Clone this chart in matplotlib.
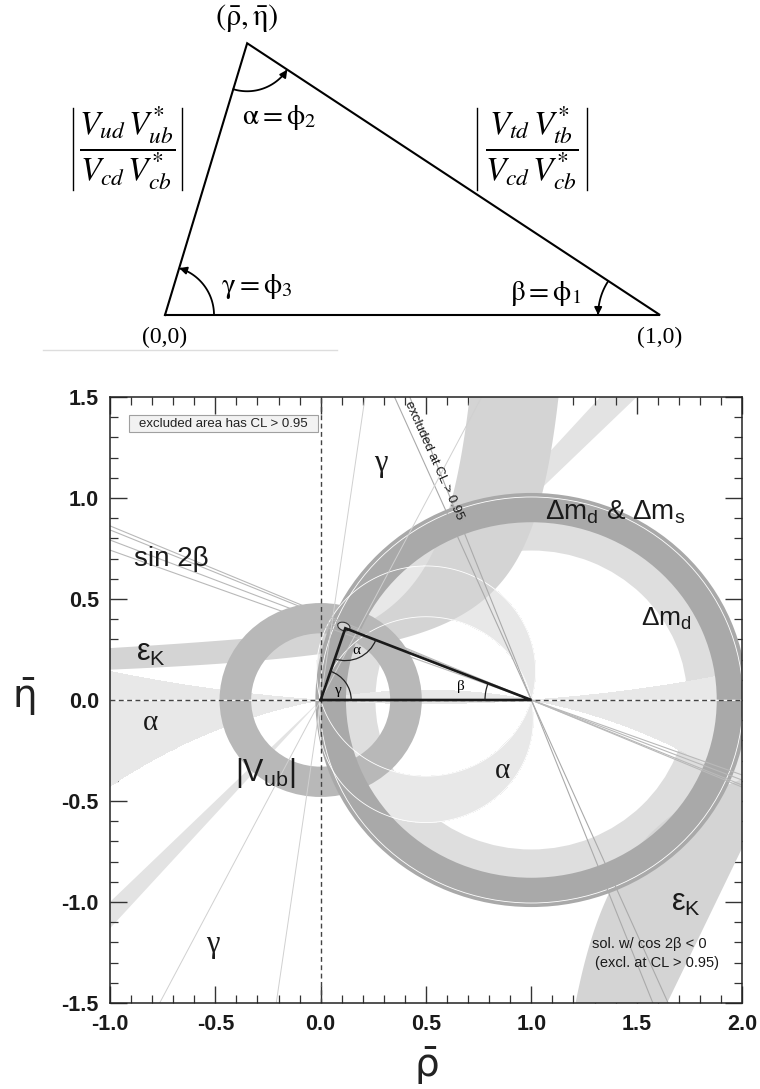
import numpy as np
import matplotlib
matplotlib.use('Agg')
import matplotlib.pyplot as plt
from matplotlib.patches import Wedge, Ellipse, Arc, FancyArrowPatch, Rectangle
from matplotlib.path import Path
from matplotlib.ticker import MultipleLocator, FormatStrFormatter

plt.rcParams['axes.unicode_minus'] = False
plt.rcParams['font.family'] = ['Liberation Sans', 'DejaVu Sans']
plt.rcParams['mathtext.fontset'] = 'custom'
plt.rcParams['mathtext.rm'] = 'Liberation Sans'
plt.rcParams['mathtext.it'] = 'Liberation Sans:italic'

# ---------------- data ----------------
# schematic unitarity triangle (top panel)
schem_apex = [0.166, 0.549]
schem_base_rho = [0.0, 1.0]

# main constraint plot
x_ticks = [-1.0, -0.5, 0.0, 0.5, 1.0, 1.5, 2.0]
y_ticks = [-1.5, -1.0, -0.5, 0.0, 0.5, 1.0, 1.5]
fit_apex = [0.117, 0.355]
fit_ellipse = [0.110, 0.364, 0.060, 0.040, -20.0]   # rho, eta, w, h, angle

vub_radii = [0.33, 0.48]            # ring centred on (0,0)
dmd_radii = [0.74, 0.95]            # ring centred on (1,0)
dmds_radii = [0.88, 1.025]          # ring centred on (1,0)
alpha_band = [74.0, 101.0]          # alpha (mod 180), degrees
alpha_band_flat = [168.9, 15.1]     # start, width (mod 180), degrees
gamma_band = [45.0, 48.5]           # degrees, wedge through origin
gamma_lines = [63.0, 82.0]          # degrees
sin2b_slopes = [-0.371, -0.396, -0.421, -0.431]
excl_slopes = [-2.31, -2.60]
ek_up_inner = [1.287, 0.229, 0.05]  # rho0, c, d   (eta = c/(rho0-rho) + d)
ek_up_outer_a = [3.17, 1.072]       # rho0, c
ek_up_outer_b = [0.8734, 0.2496]    # rho0, c
ek_lo_left = [0.93, 0.42]           # rho0, c   (rho = rho0 + c/|eta|)
ek_lo_right_pts = [[1.648, -1.493], [2.0, -0.734]]

# ---------------- figure ----------------
W, H = 760, 1089
fig = plt.figure(figsize=(W / 100, H / 100), dpi=100)

# ===== top schematic =====
axT = fig.add_axes([0, 1 - 360 / H, 1, 360 / H])
axT.set_xlim(-165 / 495, 595 / 495)
axT.set_ylim(-45 / 495, 315 / 495)
axT.axis('off')
ax_, ay_ = schem_apex
axT.plot([schem_base_rho[0], schem_base_rho[1], ax_, schem_base_rho[0]],
         [0, 0, ay_, 0], color='black', lw=1.5, solid_joinstyle='miter')
axT.plot([-0.246, 0.347], [-0.0707, -0.0707], color='#dddddd', lw=1.0)


def arc_arrow(axis, c, r, t1, t2, **kw):
    t = np.radians(np.linspace(t1, t2, 40))
    verts = np.column_stack([c[0] + r * np.cos(t), c[1] + r * np.sin(t)])
    p = Path(verts)
    a = FancyArrowPatch(path=p, arrowstyle='-|>', mutation_scale=11,
                        color='black', lw=1.3, **kw)
    axis.add_patch(a)


ang_o = np.degrees(np.arctan2(ay_, ax_))
ang_a1 = np.degrees(np.arctan2(-ay_, -ax_)) % 360
ang_a2 = np.degrees(np.arctan2(-ay_, 1 - ax_)) % 360
ang_b = np.degrees(np.arctan2(ay_, ax_ - 1))
arc_arrow(axT, (ax_, ay_), 0.097, ang_a1, ang_a2)
arc_arrow(axT, (0, 0), 0.099, 0, ang_o)
arc_arrow(axT, (1, 0), 0.125, ang_b, 180)

serif = ['Liberation Serif', 'DejaVu Serif']
axT.text(ax_, ay_ + 0.050, r'$(\bar{\mathrm{\rho}},\bar{\mathrm{\eta}})$',
         ha='center', va='center', fontsize=22, math_fontfamily='stix')
axT.text(0, -0.045, '(0,0)', ha='center', va='center', fontsize=17, family=serif)
axT.text(1, -0.045, '(1,0)', ha='center', va='center', fontsize=17, family=serif)
axT.text(0.155, 0.40, r'$\mathrm{\alpha} = \mathrm{\phi}_2$', ha='left', va='center',
         fontsize=21, math_fontfamily='stix')
axT.text(0.114, 0.057, r'$\mathrm{\gamma} = \mathrm{\phi}_3$', ha='left', va='center',
         fontsize=21, math_fontfamily='stix')
axT.text(0.697, 0.043, r'$\mathrm{\beta} = \mathrm{\phi}_1$', ha='left', va='center',
         fontsize=21, math_fontfamily='stix')
axT.text(-0.0758, 0.336, r'$\dfrac{V_{ud}\,V_{ub}^{*}}{V_{cd}\,V_{cb}^{*}}$',
         ha='center', va='center', fontsize=24, math_fontfamily='stix')
axT.text(0.7414, 0.336, r'$\dfrac{V_{td}\,V_{tb}^{*}}{V_{cd}\,V_{cb}^{*}}$',
         ha='center', va='center', fontsize=24, math_fontfamily='stix')
for bx in (-0.186, 0.034, 0.630, 0.853):
    axT.plot([bx, bx], [0.252, 0.418], color='black', lw=1.0)

# ===== main plot =====
ax = fig.add_axes([110 / W, 1 - 1003 / H, 632 / W, 606 / H])
ax.set_xlim(x_ticks[0], x_ticks[-1])
ax.set_ylim(y_ticks[0], y_ticks[-1])

c_gamma = '#e3e3e3'
c_dmd = '#dedede'
c_alpha = '#e8e8e8'
c_ek = '#d4d4d4'
c_vub = '#b8b8b8'
c_dmds = '#a9a9a9'

# gamma wedge
for off in (0, 180):
    ax.add_patch(Wedge((0, 0), 6, gamma_band[0] + off, gamma_band[1] + off,
                       facecolor=c_gamma, edgecolor='none', zorder=1))
# delta m_d
ax.add_patch(Wedge((1, 0), dmd_radii[1], 0, 360, width=dmd_radii[1] - dmd_radii[0],
                   facecolor=c_dmd, edgecolor='none', zorder=2))

# alpha field
R, E = np.meshgrid(np.linspace(-1, 2, 1201), np.linspace(-1.5, 1.5, 1201))
Z = R + 1j * E
with np.errstate(divide='ignore', invalid='ignore'):
    a_signed = np.degrees(np.angle((1 - Z) / (-Z)))
a_mod = a_signed % 180
w_flat = (a_signed - alpha_band_flat[0]) % 180
ax.contourf(R, E, a_mod, levels=alpha_band, colors=[c_alpha], zorder=3)
ax.contourf(R, E, w_flat, levels=[0, alpha_band_flat[1]], colors=[c_alpha], zorder=3)

# epsilon_K, upper branch
ru = np.linspace(-1.0, 1.3, 1500)
with np.errstate(divide='ignore', invalid='ignore'):
    inner = np.where(ru < ek_up_inner[0],
                     ek_up_inner[1] / (ek_up_inner[0] - ru) + ek_up_inner[2], 9.0)
    oa = ek_up_outer_a[1] / (ek_up_outer_a[0] - ru)
    ob = np.where(ru < ek_up_outer_b[0], ek_up_outer_b[1] / (ek_up_outer_b[0] - ru), 9.0)
outer = np.maximum(oa, ob)
inner = np.clip(inner, -9, 9)
outer = np.clip(outer, -9, 9)
ax.fill_between(ru, inner, outer, where=inner < outer, facecolor=c_ek,
                edgecolor='none', zorder=4)
# epsilon_K, lower branch
el = np.linspace(-1.6, -0.05, 800)
left = ek_lo_left[0] + ek_lo_left[1] / np.abs(el)
(p1r, p1e), (p2r, p2e) = ek_lo_right_pts
right = p1r + (el - p1e) * (p2r - p1r) / (p2e - p1e)
ax.fill_betweenx(el, left, right, where=left < right, facecolor=c_ek,
                 edgecolor='none', zorder=4)

# |Vub|
ax.add_patch(Wedge((0, 0), vub_radii[1], 0, 360, width=vub_radii[1] - vub_radii[0],
                   facecolor=c_vub, edgecolor='none', zorder=5))
# delta m_d & delta m_s
ax.add_patch(Wedge((1, 0), dmds_radii[1], 0, 360, width=dmds_radii[1] - dmds_radii[0],
                   facecolor=c_dmds, edgecolor='none', zorder=6))

# white contour lines
ax.contour(R, E, a_mod, levels=alpha_band, colors='white', linewidths=0.6, zorder=7)
ax.add_patch(Arc((1, 0), 2 * 1.005, 2 * 1.005, color='white', lw=0.6, zorder=7))

# lines
for s in sin2b_slopes:
    ax.axline((1, 0), slope=s, color='#b9b9b9', lw=0.8, zorder=8)
for s in excl_slopes:
    ax.axline((1, 0), slope=s, color='#aaaaaa', lw=0.8, zorder=8)
for g in gamma_lines:
    ax.axline((0, 0), slope=np.tan(np.radians(g)), color='#d0d0d0', lw=0.7, zorder=8)

ax.axhline(0, color='#444444', lw=1.0, ls=(0, (3.5, 2.5)), zorder=9)
ax.axvline(0, color='#444444', lw=1.0, ls=(0, (3.5, 2.5)), zorder=9)

# fit contour and triangle
ax.add_patch(Ellipse((fit_ellipse[0], fit_ellipse[1]), fit_ellipse[2], fit_ellipse[3],
                     angle=fit_ellipse[4], facecolor='#d0d0d0', edgecolor='#333333',
                     lw=0.8, zorder=10))
fx, fy = fit_apex
ax.plot([0, 1, fx, 0], [0, 0, fy, 0], color='#1a1a1a', lw=1.9, zorder=11,
        solid_joinstyle='miter')
g_ang = np.degrees(np.arctan2(fy, fx))
a1 = np.degrees(np.arctan2(-fy, -fx))
a2 = np.degrees(np.arctan2(-fy, 1 - fx))
ax.add_patch(Arc((0, 0), 0.29, 0.30, theta1=0, theta2=g_ang, color='#222222', lw=0.9, zorder=11))
ax.add_patch(Arc((fx, fy), 0.31, 0.32, theta1=a1, theta2=a2, color='#222222', lw=0.9, zorder=11))
ax.add_patch(Arc((1, 0), 0.44, 0.46, theta1=180 + a2, theta2=180, color='#222222', lw=0.9, zorder=11))
ax.text(0.085, 0.045, 'γ', fontsize=11, family=serif, ha='center', va='center', zorder=12)
ax.text(0.17, 0.245, 'α', fontsize=11, family=serif, ha='center', va='center', zorder=12)
ax.text(0.664, 0.068, 'β', fontsize=11, family=serif, ha='center', va='center', zorder=12)

# labels
tk = dict(zorder=12, color='#1a1a1a')
ax.text(0.288, 1.170, 'γ', fontsize=22, family=serif, ha='center', va='center', **tk)
ax.text(-0.51, -1.21, 'γ', fontsize=22, family=serif, ha='center', va='center', **tk)
ax.text(-0.81, -0.115, 'α', fontsize=21, family=serif, ha='center', va='center', **tk)
ax.text(0.865, -0.35, 'α', fontsize=21, family=serif, ha='center', va='center', **tk)
ax.text(-0.71, 0.70, 'sin 2β', fontsize=20, ha='center', va='center', **tk)
ax.text(-0.875, 0.235, r'ε$_\mathrm{K}$', fontsize=22, ha='left', va='center', **tk)
ax.text(1.665, -1.005, r'ε$_\mathrm{K}$', fontsize=22, ha='left', va='center', **tk)
ax.text(-0.265, -0.36, r'|V$_\mathrm{ub}$|', fontsize=22, ha='center', va='center', **tk)
ax.text(1.40, 0.93, r'Δm$_\mathrm{d}$ & Δm$_\mathrm{s}$', fontsize=20,
        ha='center', va='center', **tk)
ax.text(1.64, 0.40, r'Δm$_\mathrm{d}$', fontsize=19, ha='center', va='center', **tk)
ax.text(1.56, -1.21, 'sol. w/ cos 2β < 0', fontsize=10.5, ha='center', va='center', **tk)
ax.text(1.595, -1.30, '(excl. at CL > 0.95)', fontsize=10.5, ha='center', va='center', **tk)
ax.text(0.539, 1.188, 'excluded at CL > 0.95', fontsize=9.5, rotation=-66,
        rotation_mode='anchor', ha='center', va='center', **tk)

ax.add_patch(Rectangle((0.030, 0.942), 0.299, 0.028, transform=ax.transAxes,
                       facecolor='#f2f2f2', edgecolor='#a0a0a0', lw=0.8, zorder=12))
ax.text(0.1795, 0.956, 'excluded area has CL > 0.95', transform=ax.transAxes,
        fontsize=9.5, ha='center', va='center', zorder=13, color='#222222')

# axes style
ax.xaxis.set_major_locator(MultipleLocator(0.5))
ax.yaxis.set_major_locator(MultipleLocator(0.5))
ax.xaxis.set_minor_locator(MultipleLocator(0.1))
ax.yaxis.set_minor_locator(MultipleLocator(0.1))
ax.xaxis.set_major_formatter(FormatStrFormatter('%.1f'))
ax.yaxis.set_major_formatter(FormatStrFormatter('%.1f'))
ax.tick_params(which='both', direction='in', top=True, right=True, color='#333333')
ax.tick_params(which='major', length=12, width=1.0, pad=8, labelsize=15.5)
ax.tick_params(which='minor', length=6, width=0.9)
for lab in ax.get_xticklabels() + ax.get_yticklabels():
    lab.set_fontweight('bold')
    lab.set_color('#1a1a1a')
for sp in ax.spines.values():
    sp.set_linewidth(1.1)
    sp.set_color('#222222')
    sp.set_zorder(20)

fig.text(426 / W, 1 - 1066 / H, r'$\bar{\mathrm{\rho}}$', fontsize=28, ha='center',
         va='center', math_fontfamily='dejavusans', color='#222222')
fig.text(24 / W, 1 - 697 / H, r'$\bar{\mathrm{\eta}}$', fontsize=28, ha='center',
         va='center', math_fontfamily='dejavusans', color='#222222')

fig.savefig('out.png', dpi=100)
